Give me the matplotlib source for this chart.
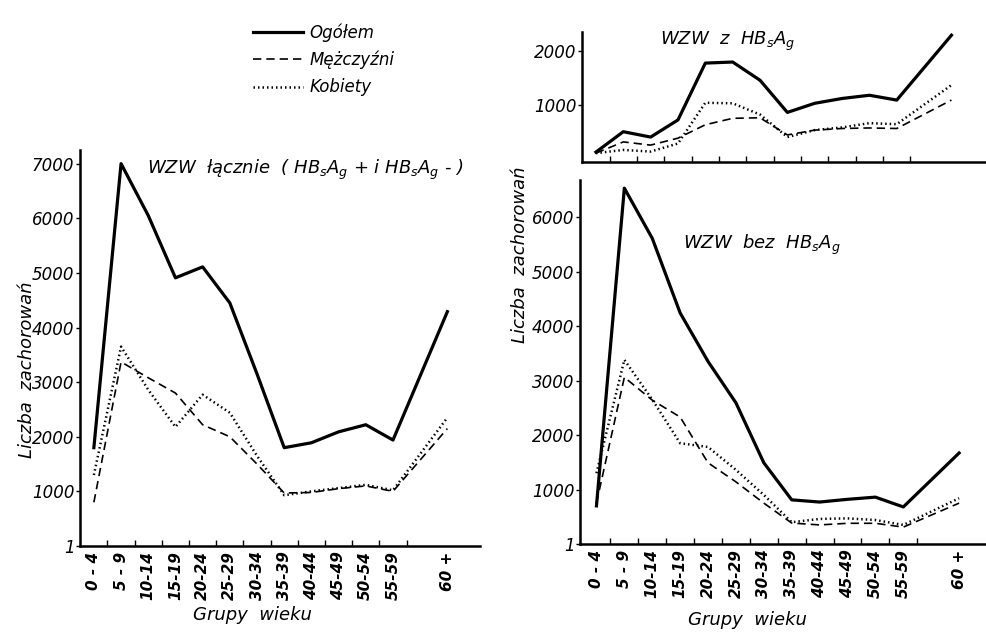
import matplotlib
matplotlib.use("Agg")
import matplotlib.pyplot as plt
from matplotlib.lines import Line2D

plt.rcParams['font.family'] = ['DejaVu Sans']
plt.rcParams['font.style'] = 'italic'
plt.rcParams['mathtext.fontset'] = 'dejavusans'

# ---- data ----
age_groups = ['0 - 4', '5 - 9', '10-14', '15-19', '20-24', '25-29', '30-34',
              '35-39', '40-44', '45-49', '50-54', '55-59', '60 +']

all_total = [1800, 7000, 6050, 4910, 5110, 4450, 3150, 1800, 1890, 2090, 2220, 1940, 4290]
all_men   = [800, 3370, 3080, 2800, 2220, 2000, 1500, 970, 980, 1050, 1100, 1000, 2150]
all_women = [1300, 3650, 2860, 2180, 2770, 2440, 1650, 930, 1000, 1060, 1120, 1020, 2350]

with_total = [120, 500, 400, 720, 1780, 1800, 1460, 860, 1030, 1120, 1180, 1090, 2300]
with_men   = [100, 310, 250, 380, 630, 750, 760, 440, 530, 560, 570, 560, 1090]
with_women = [100, 160, 130, 280, 1040, 1030, 820, 400, 530, 580, 660, 640, 1370]

without_total = [700, 6530, 5610, 4240, 3350, 2590, 1490, 810, 770, 820, 860, 680, 1670]
without_men   = [750, 3060, 2640, 2330, 1490, 1140, 750, 385, 350, 380, 380, 310, 750]
without_women = [1300, 3380, 2650, 1850, 1780, 1360, 900, 400, 460, 470, 440, 350, 840]

series_labels = ['Ogółem', 'Mężczyźni', 'Kobiety']

# category positions: 60+ separated by a gap
xpos = list(range(len(age_groups) - 1)) + [len(age_groups)]
minor_pos = [i + 0.5 for i in range(len(age_groups) - 1)]

W, H = 987, 633
fig = plt.figure(figsize=(W / 100, H / 100), dpi=100)

def frac_axes(x0, x1, ytop, ybot):
    return fig.add_axes([x0 / W, 1 - ybot / H, (x1 - x0) / W, (ybot - ytop) / H])

styles = [dict(color='black', lw=2.3, ls='-'),
          dict(color='black', lw=1.2, ls=(0, (5, 3))),
          dict(color='black', lw=1.8, ls=(0, (0.6, 1.2)), dash_capstyle='butt')]

def draw(ax, datasets, xlim, ylim, yticks, ylabels, show_xlabels=True):
    for d, st in zip(datasets, styles):
        ax.plot(xpos, d, **st)
    ax.set_xlim(*xlim)
    ax.set_ylim(*ylim)
    for s in ['top', 'right']:
        ax.spines[s].set_visible(False)
    for s in ['left', 'bottom']:
        ax.spines[s].set_linewidth(1.8)
    ax.set_yticks(yticks, ylabels, fontsize=12, style='italic')
    ax.tick_params(axis='y', direction='out', length=3, width=1, pad=1)
    if show_xlabels:
        ax.set_xticks(xpos, age_groups, rotation=90, fontsize=11, style='italic',
                      fontweight='bold')
    else:
        ax.set_xticks([])
    ax.tick_params(axis='x', which='major', length=0, pad=4)
    ax.set_xticks(minor_pos, minor=True)
    ax.tick_params(axis='x', which='minor', direction='in', length=4, width=1)
    ax.patch.set_alpha(0)

# left panel
axL = frac_axes(80, 480, 150, 546)
draw(axL, [all_total, all_men, all_women], (-0.51, 14.2), (0, 7250),
     [0, 1000, 2000, 3000, 4000, 5000, 6000, 7000],
     ['1', '1000', '2000', '3000', '4000', '5000', '6000', '7000'])
fig.text(147 / W, 1 - 170 / H,
         r'WZW  łącznie  ( $HB_sA_g$ + i $HB_sA_g$ - )', fontsize=13, style='italic',
         ha='left', va='center')

# right top panel
axT = frac_axes(582, 987, 32, 162)
draw(axT, [with_total, with_men, with_women], (-0.51, 14.3), (-65, 2360),
     [1000, 2000], ['1000', '2000'], show_xlabels=False)
fig.text(660 / W, 1 - 41 / H, r'WZW  z  $HB_sA_g$', fontsize=13, style='italic',
         ha='left', va='center')

# right bottom panel
axB = frac_axes(580, 987, 180, 544)
draw(axB, [without_total, without_men, without_women], (-0.59, 14.0), (0, 6680),
     [0, 1000, 2000, 3000, 4000, 5000, 6000],
     ['1', '1000', '2000', '3000', '4000', '5000', '6000'])
fig.text(683 / W, 1 - 245 / H, r'WZW  bez  $HB_sA_g$', fontsize=13, style='italic',
         ha='left', va='center')

# axis labels
fig.text(27 / W, 1 - 370 / H, 'Liczba  zachorowań', rotation=90, fontsize=13,
         style='italic', ha='center', va='center')
fig.text(520 / W, 1 - 255 / H, 'Liczba  zachorowań', rotation=90, fontsize=13,
         style='italic', ha='center', va='center')
fig.text(252 / W, 1 - 615 / H, 'Grupy  wieku', fontsize=13, style='italic',
         ha='center', va='center')
fig.text(747 / W, 1 - 620 / H, 'Grupy  wieku', fontsize=13, style='italic',
         ha='center', va='center')

# legend
handles = [Line2D([], [], **st) for st in styles]
fig.legend(handles, series_labels, loc='upper left', bbox_to_anchor=(238 / W, 1 - 8 / H),
           frameon=False, handlelength=3.0, handletextpad=0.4,
           labelspacing=0.55, prop={'style': 'italic', 'size': 12})

fig.savefig('out.png', dpi=100)
